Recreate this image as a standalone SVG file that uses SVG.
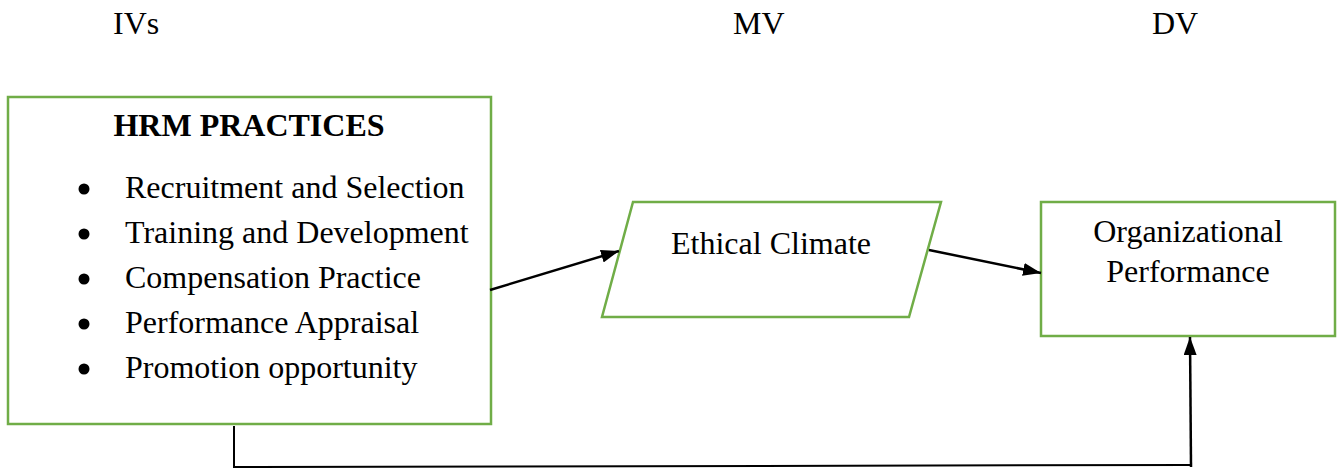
<svg xmlns="http://www.w3.org/2000/svg" width="1340" height="470" viewBox="0 0 1340 470">
  <style>
    .box { fill: #ffffff; stroke: #70AD47; stroke-width: 2.5; }
    .t { font-family: "Liberation Serif", "Times New Roman", serif; font-size: 32px; fill: #000000; }
    .b { font-weight: bold; }
    .mid { text-anchor: middle; }
    .wire { fill: none; stroke: #000000; stroke-width: 2.5; }
    .thin { fill: none; stroke: #000000; stroke-width: 2; }
  </style>
  <defs>
    <marker id="arrowBig" viewBox="0 0 18 13" refX="18" refY="6.5" markerWidth="18" markerHeight="13" markerUnits="userSpaceOnUse" orient="auto">
      <path d="M0,0 L18,6.5 L0,13 z" fill="#000000"/>
    </marker>
  </defs>

  <!-- column headings -->
  <g id="headings">
    <text class="t" x="113" y="34">IVs</text>
    <text class="t" x="733" y="34">MV</text>
    <text class="t" x="1152" y="34">DV</text>
  </g>

  <!-- independent variables -->
  <g id="hrm-practices">
    <rect class="box" x="8" y="97" width="483" height="327"/>
    <text class="t b" x="249" y="136" text-anchor="middle">HRM PRACTICES</text>
    <circle cx="84" cy="189" r="5.5"/>
    <circle cx="84" cy="234" r="5.5"/>
    <circle cx="84" cy="279" r="5.5"/>
    <circle cx="84" cy="324" r="5.5"/>
    <circle cx="84" cy="369" r="5.5"/>
    <text class="t" x="125" y="198">Recruitment and Selection</text>
    <text class="t" x="125" y="243">Training and Development</text>
    <text class="t" x="125" y="288">Compensation Practice</text>
    <text class="t" x="125" y="333">Performance Appraisal</text>
    <text class="t" x="125" y="378">Promotion opportunity</text>
  </g>

  <!-- mediating variable -->
  <g id="ethical-climate">
    <polygon class="box" points="633,202 941,202 909,317 602,317"/>
    <text class="t mid" x="771" y="254">Ethical Climate</text>
  </g>

  <!-- dependent variable -->
  <g id="organizational-performance">
    <rect class="box" x="1041" y="202" width="294" height="134"/>
    <text class="t mid" x="1188" y="242">Organizational</text>
    <text class="t mid" x="1188" y="282">Performance</text>
  </g>

  <!-- connectors -->
  <g id="connectors">
    <line class="wire" x1="490" y1="290" x2="619" y2="251" marker-end="url(#arrowBig)"/>
    <line class="wire" x1="929" y1="250" x2="1041" y2="273" marker-end="url(#arrowBig)"/>
    <polyline class="thin" points="234,426 234,467 1191,465"/>
    <line class="wire" x1="1191" y1="467" x2="1190" y2="337" marker-end="url(#arrowBig)"/>
  </g>
</svg>
